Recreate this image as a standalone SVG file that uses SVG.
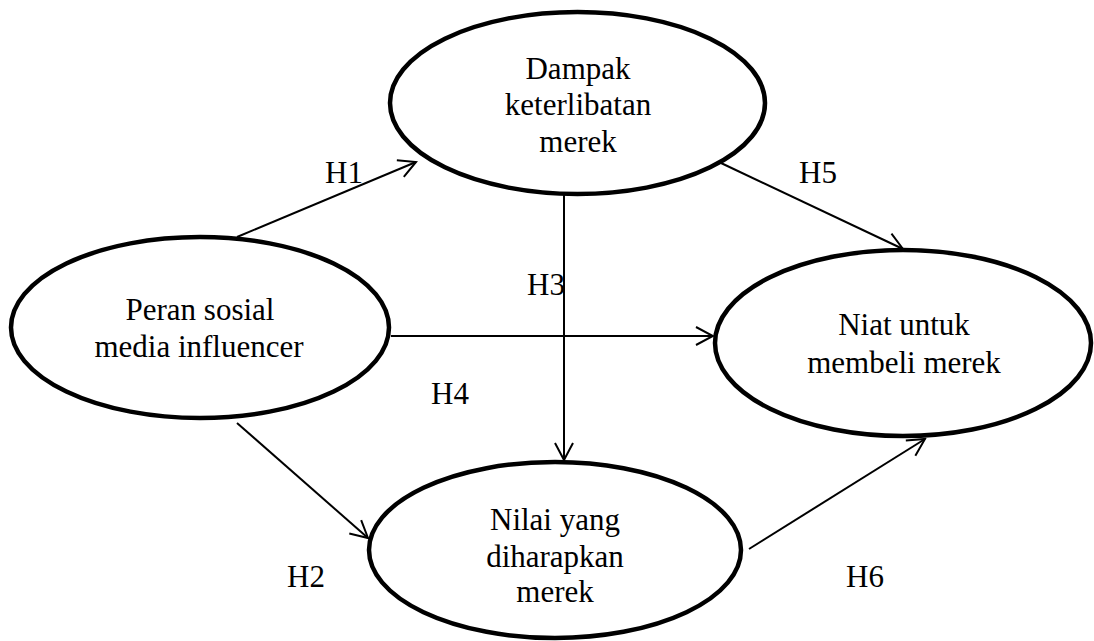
<svg xmlns="http://www.w3.org/2000/svg" width="1094" height="641" viewBox="0 0 1094 641">
<defs>
<style>
.node ellipse{fill:#fff;stroke:#000;stroke-width:4.5}
text{font-family:"Liberation Serif","Times New Roman",serif;font-size:31px;fill:#000}
.node text{text-anchor:middle}
.edge{stroke:#000;stroke-width:2;fill:none;marker-end:url(#arr)}
</style>
<marker id="arr" viewBox="-20 -11 22 22" refX="0" refY="0" markerWidth="22" markerHeight="22" markerUnits="userSpaceOnUse" orient="auto">
<path d="M-17,-9 L0,0 L-17,9" fill="none" stroke="#000" stroke-width="2"/>
</marker>
</defs>
<rect width="1094" height="641" fill="#fff"/>
<g id="connectors">
<line class="edge" x1="237" y1="237" x2="416" y2="162"/>
<line class="edge" x1="237" y1="423" x2="368" y2="538"/>
<line class="edge" x1="564" y1="195" x2="564" y2="460"/>
<line class="edge" x1="391" y1="336" x2="713" y2="336"/>
<line class="edge" x1="721" y1="163" x2="903" y2="249"/>
<line class="edge" x1="749" y1="549" x2="925" y2="439"/>
</g>
<g id="labels">
<text x="325" y="183">H1</text>
<text x="287" y="587">H2</text>
<text x="527" y="295">H3</text>
<text x="431" y="404">H4</text>
<text x="799" y="183">H5</text>
<text x="846" y="587">H6</text>
</g>
<g id="node-dampak" class="node">
<ellipse cx="577.5" cy="103" rx="187.5" ry="91"/>
<text x="578" y="79">Dampak</text>
<text x="578" y="115">keterlibatan</text>
<text x="578" y="152">merek</text>
</g>
<g id="node-peran" class="node">
<ellipse cx="200" cy="327.5" rx="189" ry="90.5"/>
<text x="200" y="320">Peran sosial</text>
<text x="199" y="357">media influencer</text>
</g>
<g id="node-nilai" class="node">
<ellipse cx="555" cy="550" rx="186" ry="88"/>
<text x="555" y="530">Nilai yang</text>
<text x="555" y="567">diharapkan</text>
<text x="555" y="602">merek</text>
</g>
<g id="node-niat" class="node">
<ellipse cx="903" cy="343" rx="188" ry="93"/>
<text x="904" y="335">Niat untuk</text>
<text x="904" y="373">membeli merek</text>
</g>
</svg>
